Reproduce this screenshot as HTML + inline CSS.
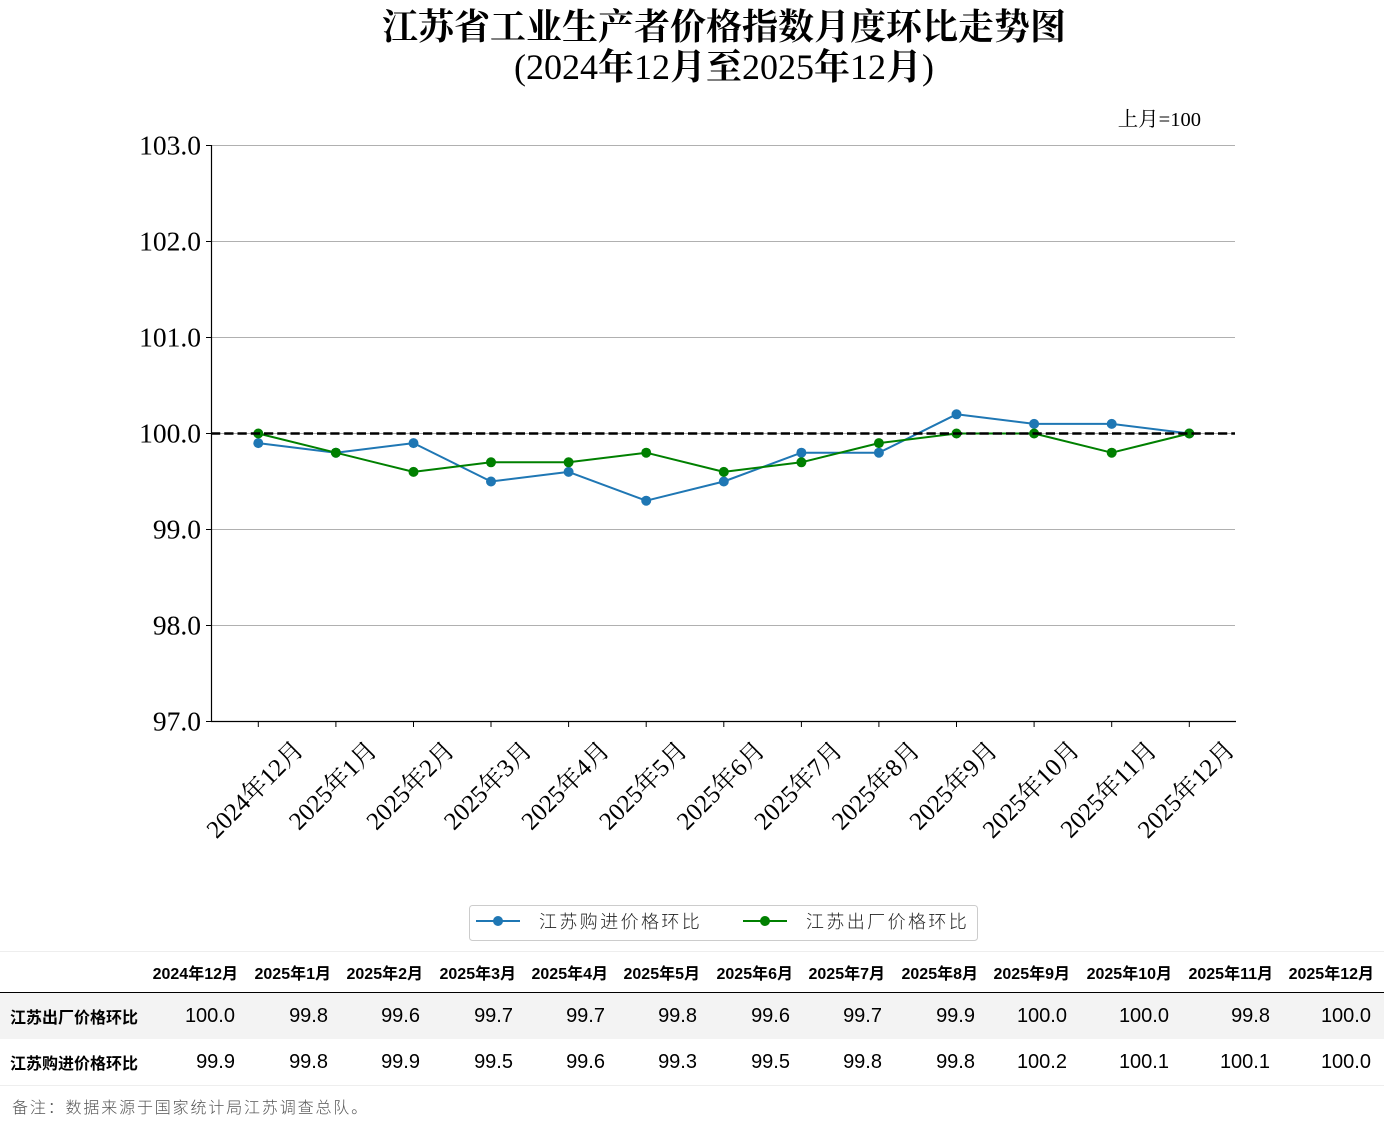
<!DOCTYPE html>
<html>
<head>
<meta charset="utf-8">
<style>
  html, body { margin:0; padding:0; background:#fff; }
  body { width:1384px; height:1137px; position:relative; overflow:hidden; }
  svg { position:absolute; left:0; top:0; }
  .tbl { position:absolute; left:0; top:951px; width:1384px; border-collapse:collapse; table-layout:fixed;
         font-family:"Liberation Sans","Noto Sans CJK SC",sans-serif; color:#000; }
  .tbl td, .tbl th { padding:0 10px 0 0; text-align:right; white-space:nowrap; overflow:visible; }
  .tbl th { font-size:16px; font-weight:bold; height:40px; border-bottom:1.5px solid #000; border-top:1px solid #eee; }
  .tbl td { font-size:20px; height:46px; padding-right:13px; }
  .tbl td.lab { text-align:left; padding-left:10px; padding-right:0; font-size:16px; font-weight:bold; }
  .tbl tr.r1 td { background:#f3f3f3; }
  .tbl tr.r2 td { border-bottom:1px solid #eee; }
  .note { position:absolute; left:12px; top:1096px; font-family:"Noto Sans CJK SC","Liberation Sans",sans-serif;
          font-weight:300; font-size:16px; letter-spacing:1.85px; color:#555; line-height:20px; }
</style>
</head>
<body>
<svg width="1384" height="950" viewBox="0 0 1384 950" xmlns="http://www.w3.org/2000/svg">
  <!-- Title -->
  <text x="724" y="39" text-anchor="middle" font-family="'Liberation Serif','Noto Serif CJK SC',serif" font-weight="bold" font-size="36" fill="#000">江苏省工业生产者价格指数月度环比走势图</text>
  <text x="724" y="79" text-anchor="middle" font-family="'Liberation Serif','Noto Serif CJK SC',serif" font-size="36" fill="#000">(2024<tspan font-weight="bold">年</tspan>12<tspan font-weight="bold">月至</tspan>2025<tspan font-weight="bold">年</tspan>12<tspan font-weight="bold">月</tspan>)</text>
  <text x="1201" y="126" text-anchor="end" font-family="'Liberation Serif','Noto Serif CJK SC',serif" font-size="20.5" fill="#000">上月=100</text>

  <!-- gridlines -->
  <g stroke="#b0b0b0" stroke-width="1">
    <line x1="211" y1="145.5" x2="1235" y2="145.5"/>
    <line x1="211" y1="241.5" x2="1235" y2="241.5"/>
    <line x1="211" y1="337.5" x2="1235" y2="337.5"/>
    <line x1="211" y1="433.5" x2="1235" y2="433.5"/>
    <line x1="211" y1="529.5" x2="1235" y2="529.5"/>
    <line x1="211" y1="625.5" x2="1235" y2="625.5"/>
  </g>

  <!-- y ticks and labels -->
  <g stroke="#000" stroke-width="1">
    <line x1="206" y1="145.5" x2="211" y2="145.5"/>
    <line x1="206" y1="241.5" x2="211" y2="241.5"/>
    <line x1="206" y1="337.5" x2="211" y2="337.5"/>
    <line x1="206" y1="433.5" x2="211" y2="433.5"/>
    <line x1="206" y1="529.5" x2="211" y2="529.5"/>
    <line x1="206" y1="625.5" x2="211" y2="625.5"/>
    <line x1="206" y1="721.5" x2="211" y2="721.5"/>
  </g>
  <g font-family="'Liberation Serif',serif" font-size="27.5" fill="#000" text-anchor="end">
    <text x="201" y="154.5">103.0</text>
    <text x="201" y="250.5">102.0</text>
    <text x="201" y="346.5">101.0</text>
    <text x="201" y="442.5">100.0</text>
    <text x="201" y="538.5">99.0</text>
    <text x="201" y="634.5">98.0</text>
    <text x="201" y="730.5">97.0</text>
  </g>

  <!-- spines -->
  <line x1="211.5" y1="145" x2="211.5" y2="722" stroke="#000" stroke-width="1.2"/>
  <line x1="211" y1="721.5" x2="1236" y2="721.5" stroke="#000" stroke-width="1.2"/>

  <!-- x ticks -->
  <g stroke="#000" stroke-width="1">
    <line x1="258.3" y1="721" x2="258.3" y2="727"/>
    <line x1="335.9" y1="721" x2="335.9" y2="727"/>
    <line x1="413.5" y1="721" x2="413.5" y2="727"/>
    <line x1="491.0" y1="721" x2="491.0" y2="727"/>
    <line x1="568.6" y1="721" x2="568.6" y2="727"/>
    <line x1="646.2" y1="721" x2="646.2" y2="727"/>
    <line x1="723.8" y1="721" x2="723.8" y2="727"/>
    <line x1="801.4" y1="721" x2="801.4" y2="727"/>
    <line x1="878.9" y1="721" x2="878.9" y2="727"/>
    <line x1="956.5" y1="721" x2="956.5" y2="727"/>
    <line x1="1034.1" y1="721" x2="1034.1" y2="727"/>
    <line x1="1111.7" y1="721" x2="1111.7" y2="727"/>
    <line x1="1189.3" y1="721" x2="1189.3" y2="727"/>
  </g>

  <!-- x labels -->
  <g font-family="'Liberation Serif','Noto Serif CJK SC',serif" font-size="25" fill="#000" text-anchor="middle" dominant-baseline="central">
    <text transform="translate(255.5,790) rotate(-45)">2024年12月</text>
    <text transform="translate(333.5,786) rotate(-45)">2025年1月</text>
    <text transform="translate(411,786) rotate(-45)">2025年2月</text>
    <text transform="translate(488.5,786) rotate(-45)">2025年3月</text>
    <text transform="translate(566,786) rotate(-45)">2025年4月</text>
    <text transform="translate(643.7,786) rotate(-45)">2025年5月</text>
    <text transform="translate(721.3,786) rotate(-45)">2025年6月</text>
    <text transform="translate(798.9,786) rotate(-45)">2025年7月</text>
    <text transform="translate(876.4,786) rotate(-45)">2025年8月</text>
    <text transform="translate(954,786) rotate(-45)">2025年9月</text>
    <text transform="translate(1031.6,790) rotate(-45)">2025年10月</text>
    <text transform="translate(1109.2,790) rotate(-45)">2025年11月</text>
    <text transform="translate(1186.8,790) rotate(-45)">2025年12月</text>
  </g>

  <!-- blue series -->
  <polyline fill="none" stroke="#1f77b4" stroke-width="2" stroke-linejoin="round"
    points="258.3,443.1 335.9,452.7 413.5,443.1 491.0,481.5 568.6,471.9 646.2,500.7 723.8,481.5 801.4,452.7 878.9,452.7 956.5,414.3 1034.1,423.9 1111.7,423.9 1189.3,433.5"/>
  <g fill="#1f77b4">
    <circle cx="258.3" cy="443.1" r="5"/><circle cx="335.9" cy="452.7" r="5"/><circle cx="413.5" cy="443.1" r="5"/>
    <circle cx="491.0" cy="481.5" r="5"/><circle cx="568.6" cy="471.9" r="5"/><circle cx="646.2" cy="500.7" r="5"/>
    <circle cx="723.8" cy="481.5" r="5"/><circle cx="801.4" cy="452.7" r="5"/><circle cx="878.9" cy="452.7" r="5"/>
    <circle cx="956.5" cy="414.3" r="5"/><circle cx="1034.1" cy="423.9" r="5"/><circle cx="1111.7" cy="423.9" r="5"/>
    <circle cx="1189.3" cy="433.5" r="5"/>
  </g>

  <!-- green series -->
  <polyline fill="none" stroke="#008000" stroke-width="2" stroke-linejoin="round"
    points="258.3,433.5 335.9,452.7 413.5,471.9 491.0,462.3 568.6,462.3 646.2,452.7 723.8,471.9 801.4,462.3 878.9,443.1 956.5,433.5 1034.1,433.5 1111.7,452.7 1189.3,433.5"/>
  <g fill="#008000">
    <circle cx="258.3" cy="433.5" r="5"/><circle cx="335.9" cy="452.7" r="5"/><circle cx="413.5" cy="471.9" r="5"/>
    <circle cx="491.0" cy="462.3" r="5"/><circle cx="568.6" cy="462.3" r="5"/><circle cx="646.2" cy="452.7" r="5"/>
    <circle cx="723.8" cy="471.9" r="5"/><circle cx="801.4" cy="462.3" r="5"/><circle cx="878.9" cy="443.1" r="5"/>
    <circle cx="956.5" cy="433.5" r="5"/><circle cx="1034.1" cy="433.5" r="5"/><circle cx="1111.7" cy="452.7" r="5"/>
    <circle cx="1189.3" cy="433.5" r="5"/>
  </g>

  <!-- baseline dashed -->
  <line x1="211" y1="433.5" x2="1235" y2="433.5" stroke="#000" stroke-width="2.5" stroke-dasharray="9.25,4"/>

  <!-- legend -->
  <rect x="469.5" y="905.5" width="508" height="35" rx="3" ry="3" fill="#fff" stroke="#cccccc" stroke-width="1"/>
  <line x1="476" y1="921" x2="520" y2="921" stroke="#1f77b4" stroke-width="2"/>
  <circle cx="498" cy="921" r="5" fill="#1f77b4"/>
  <text x="539" y="921" dominant-baseline="central" font-family="'Noto Sans CJK SC',sans-serif" font-weight="300" font-size="18" letter-spacing="2.4" fill="#222">江苏购进价格环比</text>
  <line x1="743" y1="921" x2="787" y2="921" stroke="#008000" stroke-width="2"/>
  <circle cx="765" cy="921" r="5" fill="#008000"/>
  <text x="806" y="921" dominant-baseline="central" font-family="'Noto Sans CJK SC',sans-serif" font-weight="300" font-size="18" letter-spacing="2.4" fill="#222">江苏出厂价格环比</text>
</svg>

<table class="tbl">
  <colgroup>
    <col style="width:148px"><col style="width:100px"><col style="width:93px"><col style="width:92px"><col style="width:93px">
    <col style="width:92px"><col style="width:92px"><col style="width:93px"><col style="width:92px"><col style="width:93px">
    <col style="width:92px"><col style="width:102px"><col style="width:101px"><col style="width:101px">
  </colgroup>
  <tr>
    <th></th><th>2024年12月</th><th>2025年1月</th><th>2025年2月</th><th>2025年3月</th><th>2025年4月</th><th>2025年5月</th>
    <th>2025年6月</th><th>2025年7月</th><th>2025年8月</th><th>2025年9月</th><th>2025年10月</th><th>2025年11月</th><th>2025年12月</th>
  </tr>
  <tr class="r1">
    <td class="lab">江苏出厂价格环比</td><td>100.0</td><td>99.8</td><td>99.6</td><td>99.7</td><td>99.7</td><td>99.8</td>
    <td>99.6</td><td>99.7</td><td>99.9</td><td>100.0</td><td>100.0</td><td>99.8</td><td>100.0</td>
  </tr>
  <tr class="r2">
    <td class="lab">江苏购进价格环比</td><td>99.9</td><td>99.8</td><td>99.9</td><td>99.5</td><td>99.6</td><td>99.3</td>
    <td>99.5</td><td>99.8</td><td>99.8</td><td>100.2</td><td>100.1</td><td>100.1</td><td>100.0</td>
  </tr>
</table>

<div class="note">备注：数据来源于国家统计局江苏调查总队。</div>
</body>
</html>
